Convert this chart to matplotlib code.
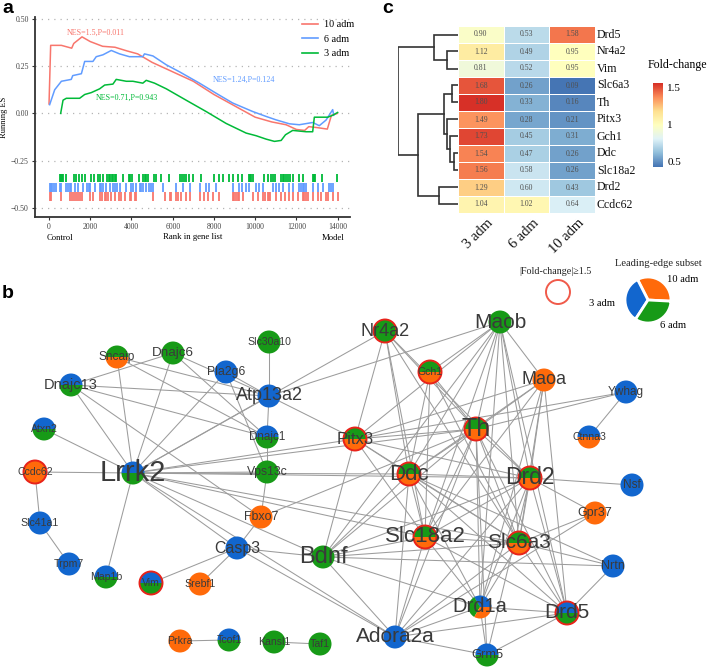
import numpy as np
import matplotlib
matplotlib.use("Agg")
import matplotlib.pyplot as plt
from matplotlib.patches import Wedge, Circle
from matplotlib.colors import LinearSegmentedColormap, Normalize
from matplotlib.collections import LineCollection
from matplotlib.lines import Line2D
import matplotlib.transforms as mtrans

SERIF = ["Liberation Serif", "DejaVu Serif"]
SANS = ["Liberation Sans", "DejaVu Sans"]

############################################################################
# panel a : running enrichment score

es_labels = ["10 adm", "6 adm", "3 adm"]
es_colors = ["#F8766D", "#619CFF", "#00BA38"]

rank_10 = [0, 80, 600, 1100, 1200, 1600, 2000, 2600, 3200, 3800, 4300, 5000, 6000,
           7000, 8000, 9000, 10000, 10800, 11500, 12000, 12400, 12600, 13000, 13500,
           13700, 13990]
es_10 = [0.05, 0.36, 0.36, 0.345, 0.37, 0.405, 0.38, 0.355, 0.35, 0.33, 0.315, 0.27,
         0.22, 0.17, 0.10, 0.04, -0.02, -0.045, -0.06, -0.085, -0.09, -0.07, -0.075,
         -0.083, -0.01, 0.0]

rank_6 = [30, 275, 600, 1080, 1150, 1570, 1730, 2130, 2290, 2616, 3020, 3420, 3900,
          4550, 4630, 5040, 5690, 6330, 7300, 8100, 8910, 9880, 10530, 11010, 11660,
          12140, 12790, 13110, 13440, 13760, 13810]
es_6 = [0.046, 0.125, 0.17, 0.18, 0.20, 0.21, 0.275, 0.275, 0.30, 0.31, 0.333, 0.315,
        0.30, 0.30, 0.315, 0.304, 0.257, 0.22, 0.16, 0.107, 0.055, 0.01, -0.016,
        -0.034, -0.055, -0.06, -0.048, -0.065, -0.035, 0.02, -0.01]

rank_3 = [565, 680, 840, 1485, 1730, 2050, 2455, 2700, 3100, 3260, 3750, 4070, 4550,
          4715, 5120, 5690, 6650, 7620, 8590, 9560, 10045, 10530, 10935, 11260, 11470,
          11820, 12470, 12790, 12870, 13520, 13760, 14000]
es_3 = [0.0, 0.07, 0.08, 0.08, 0.10, 0.11, 0.13, 0.15, 0.155, 0.18, 0.17, 0.17, 0.16,
        0.175, 0.16, 0.13, 0.07, 0.01, -0.053, -0.104, -0.118, -0.136, -0.148, -0.143,
        -0.113, -0.09, -0.097, -0.097, -0.02, -0.02, -0.01, 0.005]

hits_3 = [517, 565, 614, 678, 808, 1195, 1292, 1437, 1615, 1744, 2051, 2164, 2374, 2455,
          2616, 2810, 2891, 2939, 3036, 3101, 3182, 3262, 3585, 3876, 3941, 4038, 4361,
          4554, 4635, 4716, 4797, 5071, 5168, 5443, 5814, 6363, 6460, 6541, 6622, 6783,
          6977, 7381, 8027, 8269, 8430, 8753, 8915, 9173, 9367, 9690, 9755, 9819, 9916,
          10449, 10611, 10772, 10853, 10982, 11257, 11337, 11418, 11499, 11596, 11693,
          11822, 12145, 12339, 12791, 12839, 12920, 13243, 13954]
hits_6 = [32, 81, 145, 226, 355, 517, 598, 840, 921, 1001, 1082, 1244, 1421, 1647, 1841,
          1938, 2003, 2213, 2455, 2536, 2616, 2778, 2939, 3101, 3182, 3295, 3424, 3747,
          3989, 4070, 4231, 4393, 4474, 4554, 4716, 4829, 4942, 5039, 5523, 6169, 6492,
          6815, 7300, 7623, 7784, 8107, 8915, 9238, 9367, 9561, 9722, 10045, 10207,
          10401, 10853, 11014, 11176, 11337, 11660, 11822, 12145, 12226, 12306, 12387,
          12468, 12791, 13033, 13275, 13598, 13679, 13760]
hits_10 = [32, 113, 565, 1001, 1131, 1195, 1292, 1405, 1486, 1615, 1970, 2132, 2455,
           2584, 2697, 2778, 2859, 3020, 3182, 3392, 3505, 3666, 3908, 3989, 4151, 4231,
           5039, 5604, 5846, 5927, 6169, 6250, 6412, 6654, 6815, 7300, 7494, 7704, 7946,
           8269, 8915, 8996, 9076, 9157, 9238, 9432, 9884, 10126, 10368, 10498, 10611,
           10659, 10724, 11014, 11257, 11467, 11660, 11822, 12064, 12306, 12387, 12468,
           12549, 12791, 13033, 13195, 13437, 13517, 13760, 14002]

nes_text = ["NES=1.5,P=0.011", "NES=1.24,P=0.124", "NES=0.71,P=0.943"]
nes_pos = [(840, 0.424), (7950, 0.178), (2290, 0.085)]

############################################################################
# panel c : fold-change heatmap

hm_genes = ["Drd5", "Nr4a2", "Vim", "Slc6a3", "Th", "Pitx3", "Gch1", "Ddc",
            "Slc18a2", "Drd2", "Ccdc62"]
hm_groups = ["3 adm", "6 adm", "10 adm"]
fc_3adm = [0.90, 1.12, 0.81, 1.68, 1.80, 1.49, 1.73, 1.54, 1.56, 1.29, 1.04]
fc_6adm = [0.53, 0.49, 0.52, 0.26, 0.33, 0.28, 0.45, 0.47, 0.58, 0.60, 1.02]
fc_10adm = [1.58, 0.95, 0.95, 0.09, 0.16, 0.21, 0.31, 0.26, 0.26, 0.43, 0.64]

# dendrogram merges (child a, child b, height); leaves 0..10, new clusters 11..
dendro_merges = [(1, 2, 0.183), (0, 11, 0.40), (3, 4, 0.094), (7, 8, 0.072),
                 (6, 14, 0.128), (5, 15, 0.183), (13, 16, 0.233), (9, 10, 0.317),
                 (17, 18, 0.667), (12, 19, 1.0)]

############################################################################
# panel b : PPI network (layout coordinates, y downwards)

net_genes = ["Sncaip", "Dnajc6", "Slc30a10", "Pla2g6", "Dnajc13", "Atp13a2", "Atxn2",
             "Dnajc1", "Pitx3", "Ccdc62", "Lrrk2", "Vps13c", "Slc41a1", "Fbxo7", "Casp3",
             "Bdnf", "Trpm7", "Map1b", "Vim", "Srebf1", "Prkra", "Tcof1", "Kansl1", "Taf1",
             "Nr4a2", "Maob", "Gch1", "Maoa", "Ywhag", "Ctnna3", "Th", "Ddc", "Drd2",
             "Nsf", "Gpr37", "Slc18a2", "Slc6a3", "Nrtn", "Drd1a", "Drd5", "Adora2a",
             "Grm5"]
net_x = [117, 173, 269, 226, 71, 269, 44, 267, 355, 35, 133, 267, 40, 261, 237, 323, 69,
         106, 151, 200, 180, 229, 274, 320, 385, 500, 430, 544, 626, 589, 476, 409, 530,
         632, 595, 425, 519, 613, 480, 567, 395, 487]
net_y = [357, 353, 342, 372, 385, 396, 429, 437, 439, 472, 473, 472, 523, 517, 548, 557,
         564, 577, 583, 584, 641, 640, 642, 644, 331, 322, 372, 380, 392, 437, 429, 474,
         478, 485, 513, 537, 543, 566, 607, 613, 637, 655]
# leading-edge membership: B = 3 adm, G = 6 adm, O = 10 adm
net_subset = ["GO", "G", "G", "B", "BG", "B", "BG", "BG", "GO", "O", "BG", "G", "B", "O",
              "B", "G", "B", "BG", "BG", "O", "O", "BG", "G", "G", "G", "G", "GO", "O", "B",
              "BO", "GO", "GO", "GO", "B", "O", "GO", "GO", "B", "BGO", "BG", "B", "BG"]
fc15_genes = ["Nr4a2", "Gch1", "Pitx3", "Th", "Ddc", "Drd2", "Slc18a2", "Slc6a3", "Drd5",
              "Ccdc62", "Vim"]
label_pt = {"Lrrk2": 21, "Th": 18, "Bdnf": 17, "Drd2": 16.5, "Ddc": 16, "Slc18a2": 16,
            "Maob": 15, "Slc6a3": 15, "Drd5": 15, "Adora2a": 15, "Drd1a": 14.5,
            "Nr4a2": 13, "Atp13a2": 13, "Maoa": 13, "Pitx3": 12, "Casp3": 11.5,
            "Dnajc13": 10.5, "Dnajc6": 9.7, "Pla2g6": 8.8, "Fbxo7": 8.9, "Vps13c": 8.8,
            "Sncaip": 8.6, "Ywhag": 8.5, "Dnajc1": 8.4, "Nsf": 8.5, "Gpr37": 9,
            "Nrtn": 9, "Grm5": 9.3}

net_edges = [
    ("Dnajc13", "Dnajc6"), ("Dnajc13", "Atp13a2"), ("Dnajc13", "Dnajc1"),
    ("Dnajc13", "Lrrk2"), ("Dnajc13", "Fbxo7"), ("Sncaip", "Atp13a2"),
    ("Sncaip", "Lrrk2"), ("Sncaip", "Dnajc1"), ("Dnajc6", "Atp13a2"),
    ("Dnajc6", "Dnajc1"), ("Dnajc6", "Lrrk2"), ("Pla2g6", "Atp13a2"),
    ("Pla2g6", "Lrrk2"), ("Pla2g6", "Vps13c"), ("Slc30a10", "Atp13a2"),
    ("Atp13a2", "Dnajc1"), ("Atp13a2", "Lrrk2"), ("Atp13a2", "Pitx3"),
    ("Atp13a2", "Maob"), ("Atxn2", "Lrrk2"), ("Ccdc62", "Lrrk2"),
    ("Ccdc62", "Slc41a1"), ("Slc41a1", "Trpm7"), ("Lrrk2", "Map1b"),
    ("Lrrk2", "Vps13c"), ("Lrrk2", "Casp3"), ("Lrrk2", "Bdnf"), ("Lrrk2", "Pitx3"),
    ("Lrrk2", "Th"), ("Lrrk2", "Ddc"), ("Lrrk2", "Drd2"), ("Lrrk2", "Slc6a3"),
    ("Lrrk2", "Slc18a2"), ("Lrrk2", "Nr4a2"), ("Lrrk2", "Adora2a"),
    ("Dnajc1", "Vps13c"), ("Vps13c", "Fbxo7"), ("Fbxo7", "Casp3"), ("Fbxo7", "Th"),
    ("Casp3", "Vim"), ("Casp3", "Srebf1"), ("Casp3", "Bdnf"), ("Casp3", "Adora2a"),
    ("Bdnf", "Th"), ("Bdnf", "Ddc"), ("Bdnf", "Drd2"), ("Bdnf", "Slc6a3"),
    ("Bdnf", "Slc18a2"), ("Bdnf", "Pitx3"), ("Bdnf", "Maob"), ("Bdnf", "Nrtn"),
    ("Bdnf", "Drd1a"), ("Bdnf", "Adora2a"), ("Prkra", "Tcof1"), ("Kansl1", "Taf1"),
    ("Ywhag", "Ctnna3"), ("Ywhag", "Pitx3"), ("Ywhag", "Th"), ("Maoa", "Maob"),
    ("Maoa", "Th"), ("Maoa", "Ddc"), ("Maoa", "Drd2"), ("Maoa", "Slc6a3"),
    ("Maoa", "Slc18a2"), ("Maoa", "Pitx3"), ("Maoa", "Drd5"), ("Maoa", "Drd1a"),
    ("Maob", "Th"), ("Maob", "Ddc"), ("Maob", "Drd2"), ("Maob", "Slc6a3"),
    ("Maob", "Slc18a2"), ("Maob", "Pitx3"), ("Maob", "Drd1a"), ("Maob", "Drd5"),
    ("Maob", "Gch1"), ("Nr4a2", "Pitx3"), ("Nr4a2", "Th"), ("Nr4a2", "Ddc"),
    ("Nr4a2", "Drd2"), ("Nr4a2", "Slc6a3"), ("Nr4a2", "Slc18a2"), ("Gch1", "Th"),
    ("Gch1", "Ddc"), ("Gch1", "Slc18a2"), ("Gch1", "Slc6a3"), ("Pitx3", "Th"),
    ("Pitx3", "Ddc"), ("Pitx3", "Slc18a2"), ("Pitx3", "Slc6a3"), ("Pitx3", "Drd2"),
    ("Th", "Ddc"), ("Th", "Drd2"), ("Th", "Slc6a3"), ("Th", "Slc18a2"), ("Th", "Drd1a"),
    ("Th", "Drd5"), ("Th", "Adora2a"), ("Th", "Grm5"), ("Ddc", "Drd2"),
    ("Ddc", "Slc6a3"), ("Ddc", "Slc18a2"), ("Ddc", "Drd1a"), ("Ddc", "Adora2a"),
    ("Ddc", "Nrtn"), ("Ddc", "Drd5"), ("Drd2", "Nsf"), ("Drd2", "Gpr37"),
    ("Drd2", "Slc6a3"), ("Drd2", "Drd1a"), ("Drd2", "Drd5"), ("Drd2", "Adora2a"),
    ("Drd2", "Grm5"), ("Drd2", "Slc18a2"), ("Slc6a3", "Gpr37"), ("Slc6a3", "Drd1a"),
    ("Slc6a3", "Drd5"), ("Slc6a3", "Adora2a"), ("Slc6a3", "Slc18a2"),
    ("Slc6a3", "Nrtn"), ("Slc18a2", "Drd1a"), ("Slc18a2", "Adora2a"),
    ("Slc18a2", "Drd5"), ("Drd1a", "Drd5"), ("Drd1a", "Adora2a"), ("Drd1a", "Grm5"),
    ("Gpr37", "Adora2a"), ("Drd5", "Adora2a"), ("Drd5", "Grm5"), ("Drd5", "Nrtn"),
    ("Adora2a", "Grm5")]

subset_names = ["10 adm", "3 adm", "6 adm"]
subset_colors = {"B": "#1266CE", "G": "#179A17", "O": "#FF6A0A"}

############################################################################

W, H = 708, 668
fig = plt.figure(figsize=(W / 100, H / 100), dpi=100)

def fig_box(x0, y0, x1, y1):
  # pixel box (y downwards) -> figure fraction rect
  return [x0 / W, 1 - y1 / H, (x1 - x0) / W, (y1 - y0) / H]

# ---------------- network (b) ----------------
axn = fig.add_axes([0, 0, 1, 1])
axn.set_xlim(0, W)
axn.set_ylim(H, 0)
axn.axis("off")
axn.patch.set_visible(False)

pos = {g: (x, y) for g, x, y in zip(net_genes, net_x, net_y)}
segs = [[pos[a], pos[b]] for a, b in net_edges]
axn.add_collection(LineCollection(segs, colors="#9c9c9c", linewidths=0.75, zorder=1))

node_r = 11.5
for g, x, y, sub in zip(net_genes, net_x, net_y, net_subset):
  n = len(sub)
  for k, s in enumerate(sub):
    a1 = 360.0 * k / n
    a2 = 360.0 * (k + 1) / n
    # inverted y axis: visual angle a -> data angle -a
    axn.add_patch(Wedge((x, y), node_r, -a2, -a1, facecolor=subset_colors[s],
                        edgecolor="none", zorder=2))
  if g in fc15_genes:
    axn.add_patch(Circle((x, y), node_r, fill=False, edgecolor="#E8231A", lw=1.4,
                         zorder=3))
  axn.text(x, y, g, ha="center", va="center", fontsize=label_pt.get(g, 7.6),
           family=SANS, color="#3a3a3a", zorder=4)

# legend of network
axn.text(555, 272, "|Fold-change|\u22651.5", ha="center", va="center", fontsize=7.2,
         family=SERIF, color="#222222")
axn.add_patch(Circle((558, 292), 12, fill=False, edgecolor="#F05A4A", lw=1.4))
axn.text(658, 264, "Leading-edge subset", ha="center", va="center", fontsize=7.6,
         family=SERIF, color="#222222")
pie_c = (648, 300)
pie_order = ["O", "B", "G"]
for k, s in enumerate(pie_order):
  a1 = -3 + 120 * k
  a2 = a1 + 120
  axn.add_patch(Wedge(pie_c, 23, -a2, -a1, facecolor=subset_colors[s],
                      edgecolor="white", lw=2))
axn.text(683, 280, subset_names[0], ha="center", va="center", fontsize=7.6, family=SERIF)
axn.text(602, 303, subset_names[1], ha="center", va="center", fontsize=7.6, family=SERIF)
axn.text(673, 326, subset_names[2], ha="center", va="center", fontsize=7.6, family=SERIF)

# ---------------- panel a ----------------
axa = fig.add_axes(fig_box(35, 17, 350, 217))
for ranks, es, c, lab in zip([rank_10, rank_6, rank_3], [es_10, es_6, es_3],
                             es_colors, es_labels):
  axa.plot(ranks, es, color=c, lw=1.1, label=lab)

rug_rows = [(hits_3, es_colors[2], -0.319, -0.364),
            (hits_6, es_colors[1], -0.368, -0.415),
            (hits_10, es_colors[0], -0.417, -0.465)]
for hits, c, y0, y1 in rug_rows:
  axa.vlines(hits, y1, y0, color=c, lw=1.3)

for txt, (tx, ty), c in zip(nes_text, nes_pos, es_colors):
  axa.text(tx, ty, txt, color=c, fontsize=5.8, family=SERIF, va="center")

axa.set_xlim(-680, 14600)
axa.set_ylim(-0.548, 0.51)
axa.set_yticks([0.5, 0.25, 0.0, -0.25, -0.5])
axa.set_yticklabels(["0.50", "0.25", "0.00", "\u22120.25", "\u22120.50"])
axa.set_xticks(range(0, 14001, 2000))
for yv in [0.5, 0.25, 0.0, -0.25, -0.5]:
  axa.axhline(yv, color="#b5b5b5", lw=0.9, ls=(0, (1, 4)), zorder=0)
for s in ["top", "right"]:
  axa.spines[s].set_visible(False)
for s in ["left", "bottom"]:
  axa.spines[s].set_color("#333333")
  axa.spines[s].set_linewidth(1.3)
axa.tick_params(length=2.5, width=0.8, colors="#333333", labelsize=5.6, pad=2)
for lab in axa.get_xticklabels() + axa.get_yticklabels():
  lab.set_family(SERIF)
  lab.set_color("#444444")
axa.set_ylabel("Running ES", fontsize=6, family=SERIF)
axa.yaxis.set_label_coords(-0.085, 0.5)
axa.set_xlabel("Rank in gene list", fontsize=6.3, family=SERIF, labelpad=1)
trans = mtrans.blended_transform_factory(axa.transData, axa.transAxes)
axa.text(550, -0.105, "Control", transform=trans, ha="center", va="center",
         fontsize=6.2, family=SERIF)
axa.text(13800, -0.105, "Model", transform=trans, ha="center", va="center",
         fontsize=6.2, family=SERIF)
handles = [Line2D([], [], color=c, lw=1.2) for c in es_colors]
axa.legend(handles, es_labels, loc="upper left", frameon=False,
           bbox_to_anchor=(302 / W, 1 - 20 / H), bbox_transform=fig.transFigure,
           prop={"family": SERIF, "size": 7.3}, handlelength=1.6, handletextpad=0.6,
           labelspacing=0.55, borderaxespad=0, borderpad=0)

# ---------------- panel c ----------------
pheat = ["#4575B4", "#91BFDB", "#E0F3F8", "#FFFFBF", "#FEE090", "#FC8D59", "#D73027"]
cmap = LinearSegmentedColormap.from_list("pheat", pheat)
fc = np.array([fc_3adm, fc_6adm, fc_10adm]).T
norm = Normalize(fc.min(), fc.max())
nrow = len(hm_genes)

axh = fig.add_axes(fig_box(458, 26, 595, 213))
axh.pcolormesh(np.arange(4), np.arange(nrow + 1), fc, cmap=cmap, norm=norm,
               edgecolors="white", linewidth=0.7)
axh.set_xlim(0, 3)
axh.set_ylim(nrow, 0)
axh.axis("off")
for i in range(nrow):
  for j in range(3):
    axh.text(j + 0.5, i + 0.5, "%.2f" % fc[i, j], ha="center", va="center",
             fontsize=5.6, family=SERIF, color="#505050")
  axh.text(3.04, i + 0.5, hm_genes[i], ha="left", va="center", fontsize=8.6,
           family=SERIF, color="#111111")
for j, g in enumerate(hm_groups):
  axh.text(j + 0.62, nrow + 0.2, g, ha="right", va="top", rotation=45,
           rotation_mode="anchor", fontsize=10.5, family=SERIF, color="#111111")

# dendrogram
axd = fig.add_axes(fig_box(398, 26, 458, 213))
axd.set_xlim(1.0, 0.0)
axd.set_ylim(nrow, 0)
axd.axis("off")
node_y = [i + 0.5 for i in range(nrow)]
node_h = [0.0] * nrow
for a, b, h in dendro_merges:
  ya, yb = node_y[a], node_y[b]
  axd.plot([node_h[a], h, h, node_h[b]], [ya, ya, yb, yb], color="#333333", lw=1.2,
           solid_joinstyle="miter")
  node_y.append((ya + yb) / 2)
  node_h.append(h)

# colour key
axc = fig.add_axes(fig_box(653, 83, 663, 167))
grad = np.linspace(0, 1, 200).reshape(-1, 1)
axc.imshow(grad, aspect="auto", cmap=cmap, origin="lower", extent=(0, 1, 0.42, 1.56))
axc.set_xlim(0, 1)
axc.set_ylim(0.42, 1.56)
axc.set_xticks([])
axc.yaxis.tick_right()
axc.set_yticks([0.5, 1.0, 1.5])
axc.set_yticklabels(["0.5", "1", "1.5"])
axc.tick_params(length=0, labelsize=8, pad=3)
for lab in axc.get_yticklabels():
  lab.set_family(SERIF)
for s in axc.spines.values():
  s.set_visible(False)
fig.text(648 / W, 1 - 65 / H, "Fold-change", ha="left", va="center", fontsize=8.6,
         family=SERIF)

# panel letters
fig.text(2 / W, 1 - 13 / H, "a", fontsize=14, fontweight="bold", family=SANS)
fig.text(2 / W, 1 - 298 / H, "b", fontsize=14, fontweight="bold", family=SANS)
fig.text(382 / W, 1 - 13 / H, "c", fontsize=14, fontweight="bold", family=SANS)

fig.savefig("out.png", dpi=100)
